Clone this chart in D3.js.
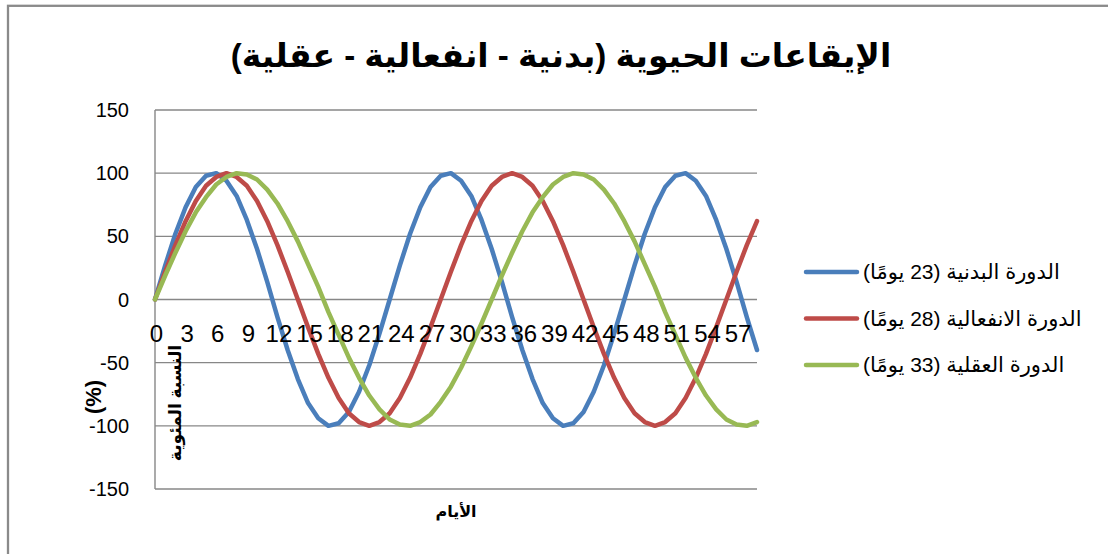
<!DOCTYPE html>
<html>
<head>
<meta charset="utf-8">
<script src="https://cdn.jsdelivr.net/npm/d3@7"></script>
<style>
  body { margin: 0; background: #fff; }
  text { font-family: 'Liberation Sans', Arial, 'DejaVu Sans', sans-serif; }
</style>
</head>
<body>
<div id="chart"></div>
<script>
const days = d3.range(0, 60);
const tickDays = [0, 3, 6, 9, 12, 15, 18, 21, 24, 27, 30, 33, 36, 39, 42, 45, 48, 51, 54, 57];
const yTicks = [-150, -100, -50, 0, 50, 100, 150];

// values, one per day 0..59
const physical = [
  0, 27, 52, 73, 89, 98, 100, 94, 82, 63, 40, 14, -14, -40, -63, -82, -94, -100, -98, -89, -73, -52, -27,
  0, 27, 52, 73, 89, 98, 100, 94, 82, 63, 40, 14, -14, -40, -63, -82, -94, -100, -98, -89, -73, -52, -27,
  0, 27, 52, 73, 89, 98, 100, 94, 82, 63, 40, 14, -14, -40
];
const emotional = [
  0, 22, 43, 62, 78, 90, 97, 100, 97, 90, 78, 62, 43, 22, 0, -22, -43, -62, -78, -90, -97, -100, -97, -90, -78, -62, -43, -22,
  0, 22, 43, 62, 78, 90, 97, 100, 97, 90, 78, 62, 43, 22, 0, -22, -43, -62, -78, -90, -97, -100, -97, -90, -78, -62, -43, -22,
  0, 22, 43, 62
];
const intellectual = [
  0, 19, 37, 54, 69, 81, 91, 97, 100, 99, 95, 87, 76, 62, 46, 28, 10, -10, -28, -46, -62, -76, -87, -95, -99, -100, -97, -91, -81, -69, -54, -37, -19,
  0, 19, 37, 54, 69, 81, 91, 97, 100, 99, 95, 87, 76, 62, 46, 28, 10, -10, -28, -46, -62, -76, -87, -95, -99, -100, -97
];

const seriesNames = ['الدورة البدنية (23 يومًا)', 'الدورة الانفعالية (28 يومًا)', 'الدورة العقلية (33 يومًا)'];
const seriesColors = ['#4a7ebb', '#be4b48', '#98b954'];
const seriesValues = [physical, emotional, intellectual];

const width = 1108;
const height = 554;
const plot = { left: 155, right: 757, top: 110, bottom: 489 };

const svg = d3.select('#chart')
  .append('svg')
  .attr('width', width)
  .attr('height', height);

// outer chart border (runs off the right and bottom of the picture)
svg.append('rect')
  .attr('x', 8)
  .attr('y', 5.8)
  .attr('width', 1200)
  .attr('height', 700)
  .attr('fill', 'none')
  .attr('stroke', '#8a8a8a')
  .attr('stroke-width', 2.3);

const x = d3.scaleLinear().domain([0, 59]).range([plot.left, plot.right]);
const y = d3.scaleLinear().domain([-150, 150]).range([plot.bottom, plot.top]);

// gridlines
svg.append('g')
  .selectAll('line')
  .data(yTicks)
  .enter()
  .append('line')
  .attr('x1', plot.left)
  .attr('x2', plot.right)
  .attr('y1', (d) => y(d))
  .attr('y2', (d) => y(d))
  .attr('stroke', '#878787')
  .attr('stroke-width', 1.4);

svg.append('line')
  .attr('x1', plot.left)
  .attr('x2', plot.left)
  .attr('y1', plot.top)
  .attr('y2', plot.bottom)
  .attr('stroke', '#878787')
  .attr('stroke-width', 1.4);

// y tick labels
svg.append('g')
  .selectAll('text')
  .data(yTicks)
  .enter()
  .append('text')
  .text((d) => d)
  .attr('x', 129)
  .attr('y', (d) => y(d) + 7)
  .attr('text-anchor', 'end')
  .attr('font-size', 20)
  .attr('fill', '#000');

// lines
const line = d3.line()
  .x((d, i) => x(days[i]))
  .y((d) => y(d));

svg.append('g')
  .selectAll('path')
  .data(seriesValues)
  .enter()
  .append('path')
  .attr('d', (d) => line(d))
  .attr('fill', 'none')
  .attr('stroke', (d, i) => seriesColors[i])
  .attr('stroke-width', 4.5)
  .attr('stroke-linejoin', 'round')
  .attr('stroke-linecap', 'round');

// x tick labels, sitting just under the zero line
svg.append('g')
  .selectAll('text')
  .data(tickDays)
  .enter()
  .append('text')
  .text((d) => d)
  .attr('x', (d) => x(d) + 1.5)
  .attr('y', y(0) + 42)
  .attr('text-anchor', 'middle')
  .attr('font-size', 24)
  .attr('fill', '#000');

// title
svg.append('text')
  .text('الإيقاعات الحيوية (بدنية - انفعالية - عقلية)')
  .attr('direction', 'rtl')
  .attr('x', 561)
  .attr('y', 67)
  .attr('text-anchor', 'middle')
  .attr('font-size', 33)
  .attr('font-weight', 'bold')
  .attr('fill', '#000');

// axis titles
svg.append('text')
  .text('الأيام')
  .attr('direction', 'rtl')
  .attr('x', (plot.left + plot.right) / 2)
  .attr('y', 517)
  .attr('text-anchor', 'middle')
  .attr('font-size', 16)
  .attr('font-weight', 'bold')
  .attr('fill', '#000');

svg.append('text')
  .text('(%)')
  .attr('transform', 'translate(101,397) rotate(-90)')
  .attr('text-anchor', 'middle')
  .attr('font-size', 22)
  .attr('font-weight', 'bold')
  .attr('fill', '#000');

svg.append('text')
  .text('النسبة المئوية')
  .attr('direction', 'rtl')
  .attr('transform', 'translate(181,403) rotate(-90)')
  .attr('text-anchor', 'middle')
  .attr('font-size', 17)
  .attr('font-weight', 'bold')
  .attr('fill', '#000');

// legend
const legend = svg.append('g')
  .selectAll('g')
  .data(seriesNames)
  .enter()
  .append('g')
  .attr('transform', (d, i) => `translate(0, ${272 + i * 46.5})`);

legend.append('line')
  .attr('x1', 806)
  .attr('x2', 857)
  .attr('y1', 0)
  .attr('y2', 0)
  .attr('stroke', (d, i) => seriesColors[i])
  .attr('stroke-width', 4.5)
  .attr('stroke-linecap', 'round');

legend.append('text')
  .text((d) => d)
  .attr('direction', 'rtl')
  .attr('x', 863)
  .attr('y', 7)
  .attr('text-anchor', 'end')
  .attr('font-size', 21)
  .attr('fill', '#000');
</script>
</body>
</html>
